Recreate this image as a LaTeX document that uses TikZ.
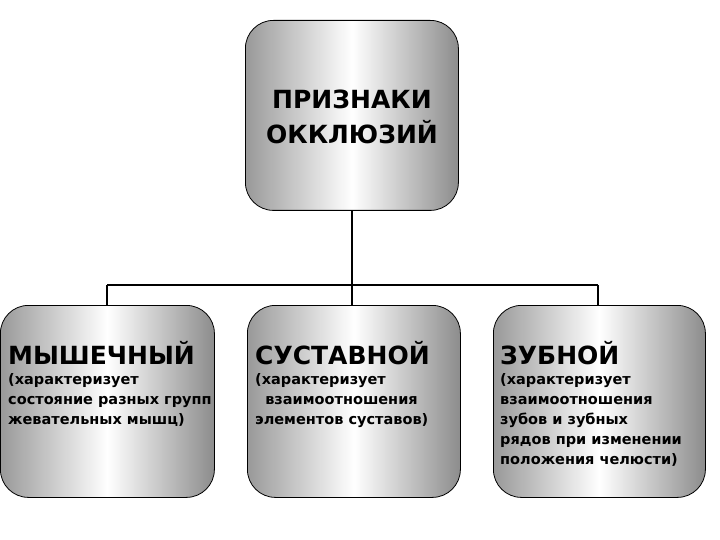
\documentclass[tikz,border=0pt]{standalone}
\usepackage{fontspec}
\setmainfont{DejaVu Sans}
\begin{document}
\begin{tikzpicture}[x=1pt,y=-1pt,
  box/.style={draw=black,line width=0.8pt,rounded corners=28pt,left color=gray!80,right color=gray!90,middle color=white},
  ttl/.style={anchor=base west,inner sep=0pt,font=\bfseries\fontsize{25}{28}\selectfont},
  sub/.style={anchor=north west,inner sep=0pt,align=left,font=\bfseries\fontsize{14.5}{20}\selectfont},
  ln/.style={line width=1.6pt}]
\useasboundingbox (0,0) rectangle (720,540);
\node[box,minimum width=213pt,minimum height=190pt,anchor=north west] (top) at (245,20) {};
\node[box,minimum width=214pt,minimum height=192pt,anchor=north west] (b1) at (0,305) {};
\node[box,minimum width=213pt,minimum height=192pt,anchor=north west] (b2) at (247,305) {};
\node[box,minimum width=212pt,minimum height=192pt,anchor=north west] (b3) at (493,305) {};
\node[align=center,inner sep=0pt,font=\bfseries\fontsize{25}{35}\selectfont] (tt) at (352,117) {ПРИЗНАКИ\\ОККЛЮЗИЙ};
\coordinate (j) at (352,285);
\coordinate (jl) at (107,285);
\coordinate (jr) at (598,285);
\draw[ln] (j|-top.south) -- (j);
\draw[ln] (jl) -- (jr);
\draw[ln] (jl) -- (jl|-b1.north);
\draw[ln] (j) -- (j|-b2.north);
\draw[ln] (jr) -- (jr|-b3.north);
\node[ttl] (t1) at (8,364) {МЫШЕЧНЫЙ};
\node[ttl] (t2) at (255,364) {СУСТАВНОЙ};
\node[ttl] (t3) at (500,364) {ЗУБНОЙ};
\node[sub] (s1) at (8,373) {(характеризует\\состояние разных групп\\жевательных мышц)};
\node[sub] (s2) at (255,373) {(характеризует\\\ \ взаимоотношения\\элементов суставов)};
\node[sub] (s3) at (500,373) {(характеризует\\взаимоотношения\\зубов и зубных\\рядов при изменении\\положения челюсти)};
\end{tikzpicture}
\end{document}
